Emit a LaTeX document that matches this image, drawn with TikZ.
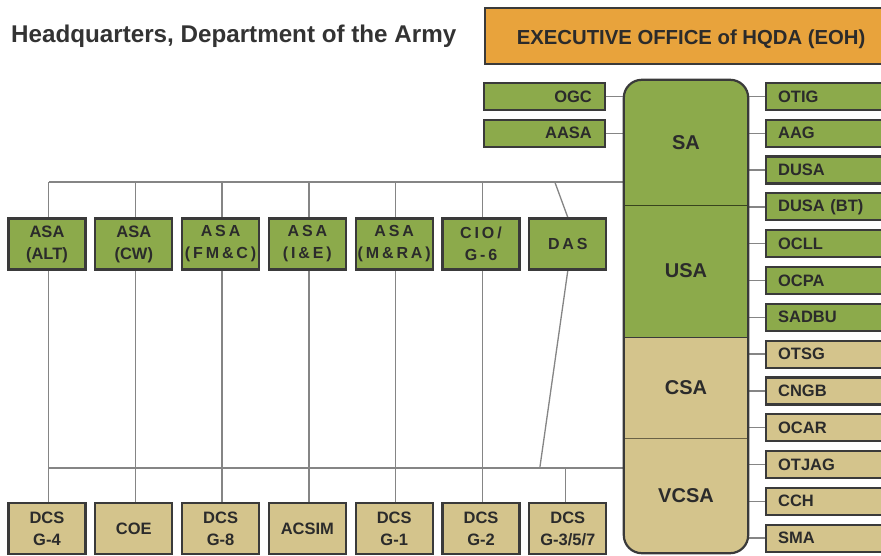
\documentclass[tikz,border=0pt]{standalone}
\usepackage{fontspec}
\setmainfont{Liberation Sans}
\newfontfamily\spacedfont[LetterSpace=18]{Liberation Sans}
\usetikzlibrary{backgrounds}
\definecolor{grn}{HTML}{8CAA4B}
\definecolor{tanc}{HTML}{D4C48C}
\definecolor{orgc}{HTML}{E8A33C}
\definecolor{bdr}{HTML}{3A3A3A}
\definecolor{lnk}{HTML}{858585}
\definecolor{txt}{HTML}{2B2B2B}
\definecolor{titlec}{HTML}{333333}
\pgfdeclarelayer{bottom}
\pgfsetlayers{bottom,background,main}
\tikzset{
  box/.style={draw=bdr, line width=2.2pt, text=txt, font=\bfseries\fontsize{16.5}{22}\selectfont, inner sep=0pt},
  rowbox/.style={box, minimum width=77, minimum height=51, align=center},
  spaced/.style={font=\bfseries\spacedfont\fontsize{16}{22}\selectfont},
  rbox/.style={box, anchor=west, text width=110, inner xsep=12, minimum height=27, align=left},
  lbox/.style={box, anchor=east, text width=95, inner xsep=13, minimum height=27, align=right},
  sec/.style={minimum width=124, inner sep=0pt, text=txt, font=\bfseries\fontsize{20}{24}\selectfont},
  link/.style={draw=lnk, line width=1.3pt},
  divline/.style={line width=1pt},
}
\begin{document}
\begin{tikzpicture}[x=1pt, y=-1pt]
\clip (0,0) rectangle (881,556);
\begin{pgfonlayer}{bottom}
  \fill[white] (0,0) rectangle (881,556);
\end{pgfonlayer}

% title
\node[anchor=west, inner sep=0pt, text=titlec, font=\bfseries\fontsize{24.2}{28}\selectfont] (title) at (11,36) {Headquarters, Department of the Army};

% executive office
\node[box, fill=orgc, anchor=north west, minimum width=412, minimum height=56, text height=17, text depth=0, font=\bfseries\fontsize{20.3}{24}\selectfont] (eoh) at (484,7) {EXECUTIVE OFFICE of HQDA (EOH)};

% central column sections (text nodes)
\node[sec, minimum height=125] (sa) at (686,142.5) {SA};
\node[sec, minimum height=132] (usa) at (686,271) {USA};
\node[sec, minimum height=101] (csa) at (686,387.5) {CSA};
\node[sec, minimum height=115] (vcsa) at (686,495.5) {VCSA};

\begin{pgfonlayer}{background}
  \begin{scope}
    \clip[rounded corners=18] (sa.north west) rectangle (vcsa.south east);
    \fill[grn] (sa.north west) rectangle (usa.south east);
    \fill[tanc] (csa.north west) rectangle (vcsa.south east);
  \end{scope}
  \draw[divline, draw=black!60!grn] (sa.south west) -- (sa.south east);
  \draw[divline, draw=bdr] (usa.south west) -- (usa.south east);
  \draw[divline, draw=black!50!tanc] (csa.south west) -- (csa.south east);
  \draw[draw=bdr, line width=2.2pt, rounded corners=18] (sa.north west) rectangle (vcsa.south east);
\end{pgfonlayer}

% left boxes
\node[lbox, fill=grn] (ogc) at (606,96.5) {OGC};
\node[lbox, fill=grn] (aasa) at (606,133.3) {AASA};

% right boxes
\foreach \nm/\lab/\k/\fc in {otig/OTIG/0/grn, aag/AAG/1/grn, dusa/DUSA/2/grn, dusabt/DUSA (BT)/3/grn, ocll/OCLL/4/grn, ocpa/OCPA/5/grn, sadbu/SADBU/6/grn, otsg/OTSG/7/tanc, cngb/CNGB/8/tanc, ocar/OCAR/9/tanc, otjag/OTJAG/10/tanc, cch/CCH/11/tanc, sma/SMA/12/tanc}{
  \node[rbox, fill=\fc] (\nm) at (765,{96.5+36.8*\k}) {\lab};
  \begin{pgfonlayer}{bottom}
    \draw[link] (\nm.west) -- (\nm.west -| sa.east);
  \end{pgfonlayer}
}

% ASA row
\node[rowbox, fill=grn] (alt) at (47,244) {ASA\\(ALT)};
\node[rowbox, fill=grn] (cw) at (133.8,244) {ASA\\(CW)};
\node[rowbox, fill=grn, spaced] (fmc) at (220.6,244) {ASA\\(FM\&C)};
\node[rowbox, fill=grn, spaced] (ie) at (307.4,244) {ASA\\(I\&E)};
\node[rowbox, fill=grn, spaced] (mra) at (394.2,244) {ASA\\(M\&RA)};
\node[rowbox, fill=grn, spaced] (cio) at (481,244) {CIO/\\G-6};
\node[rowbox, fill=grn, spaced] (das) at (567.8,244) {DAS};

% DCS row
\node[rowbox, fill=tanc] (g4) at (47,528.5) {DCS\\G-4};
\node[rowbox, fill=tanc] (coe) at (133.8,528.5) {COE};
\node[rowbox, fill=tanc] (g8) at (220.6,528.5) {DCS\\G-8};
\node[rowbox, fill=tanc] (acsim) at (307.4,528.5) {ACSIM};
\node[rowbox, fill=tanc] (g1) at (394.2,528.5) {DCS\\G-1};
\node[rowbox, fill=tanc] (g2) at (481,528.5) {DCS\\G-2};
\node[rowbox, fill=tanc] (g357) at (567.8,528.5) {DCS\\G-3/5/7};

\coordinate (topbus) at (0,182);
\coordinate (botbus) at (0,468);

\begin{pgfonlayer}{bottom}
  \draw[link] (ogc.east) -- (ogc.east -| sa.west);
  \draw[link] (aasa.east) -- (aasa.east -| sa.west);
  \draw[link] ([xshift=2]alt.north |- topbus) -- (topbus -| sa.west);
  \draw[link] ([xshift=2]g4.north |- botbus) -- (botbus -| vcsa.west);
  \foreach \a/\b in {alt/g4, cw/coe, fmc/g8, ie/acsim, mra/g1, cio/g2}{
    \draw[link] ([xshift=1.5]\a.center |- topbus) -- ([xshift=1.5]\b.center);
  }
  \draw[link] ([xshift=-13]das.north |- topbus) -- (das.north);
  \draw[link] (das.south) -- ([xshift=-28]das.south |- botbus);
  \draw[link] ([xshift=-2]g357.north |- botbus) -- ([xshift=-2]g357.north);
\end{pgfonlayer}
\end{tikzpicture}
\end{document}
